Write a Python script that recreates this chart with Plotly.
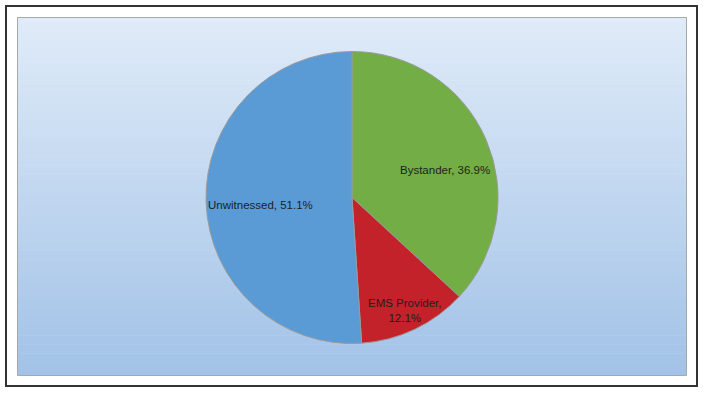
import plotly.graph_objects as go

labels = ["Bystander", "EMS Provider", "Unwitnessed"]
values = [36.9, 12.1, 51.1]
colors = ["#72ae45", "#c3222a", "#5b9bd5"]
separators = [", ", ",<br>", ", "]
# label anchor points (pixels) matching the reference placement
label_px = [(445, 169.5), (405, 310), (260.5, 205)]

W, H = 704, 394
fig = go.Figure()

fig.add_trace(go.Pie(
    labels=labels, values=values, sort=False, direction="clockwise", rotation=0,
    marker=dict(colors=colors, line=dict(color="#9a9a9a", width=1)),
    textinfo="none", hoverinfo="label+value", showlegend=False,
    domain=dict(x=[206/W, 498/W], y=[1-343.5/H, 1-51.5/H]),
))

for lab, val, sep, (px, py) in zip(labels, values, separators, label_px):
    fig.add_annotation(x=px/W, y=1-py/H, xref="paper", yref="paper",
                       text=f"{lab}{sep}{val:.1f}%", showarrow=False,
                       font=dict(family="Liberation Sans, Arial", size=11.5, color="#1e1e1e"),
                       xanchor="center", yanchor="middle", align="center")

# gradient background bands
x0, x1, y0, y1 = 17.5, 686.5, 17.5, 375.5
n = 80
top = (0xdf, 0xeb, 0xf8)
bot = (0xa2, 0xc2, 0xe7)
shapes = []
for i in range(n):
    t = i / (n - 1)
    c = tuple(round(top[k] + (bot[k] - top[k]) * t) for k in range(3))
    ya = y0 + (y1 - y0) * i / n
    yb = y0 + (y1 - y0) * (i + 1) / n + 0.6
    shapes.append(dict(type="rect", xref="paper", yref="paper", layer="below",
                       x0=x0/W, x1=x1/W, y0=1-min(yb, y1)/H, y1=1-ya/H,
                       fillcolor="rgb(%d,%d,%d)" % c, line=dict(width=0)))
shapes.append(dict(type="rect", xref="paper", yref="paper", layer="below",
                   x0=x0/W, x1=x1/W, y0=1-y1/H, y1=1-y0/H,
                   line=dict(color="#a8a8a8", width=1)))
shapes.append(dict(type="rect", xref="paper", yref="paper", layer="below",
                   x0=6/W, x1=697/W, y0=1-386/H, y1=1-6/H,
                   line=dict(color="#333333", width=2)))

fig.update_layout(
    width=W, height=H, margin=dict(l=0, r=0, t=0, b=0),
    paper_bgcolor="white", plot_bgcolor="white", shapes=shapes,
)
fig.write_html("out.html")
